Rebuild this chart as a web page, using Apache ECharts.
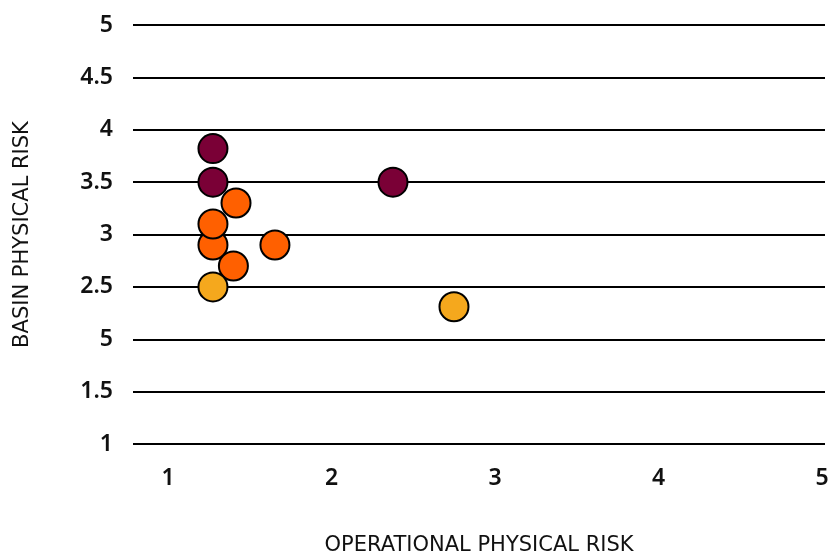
<!DOCTYPE html>
<html>
<head>
<meta charset="utf-8">
<script src="https://cdn.jsdelivr.net/npm/echarts@6/dist/echarts.min.js"></script>
<style>html,body{margin:0;padding:0;background:#fff;}#c{width:832px;height:556px;}</style>
</head>
<body>
<div id="c"></div>
<script>
// Tick labels as printed in the reference (note the "5" printed at value 2)
const yTickValues = [1, 1.5, 2, 2.5, 3, 3.5, 4, 4.5, 5];
const yTickLabels = ['1', '1.5', '5', '2.5', '3', '3.5', '4', '4.5', '5'];
const xTickValues = [1, 2, 3, 4, 5];
const xTickLabels = ['1', '2', '3', '4', '5'];

// Series data: [operational physical risk, basin physical risk]
const orangeX = [1.275, 1.275, 1.416, 1.654, 1.40];
const orangeY = [2.9, 3.1, 3.3, 2.9, 2.7];
const yellowX = [1.275, 2.749];
const yellowY = [2.5, 2.31];
const maroonX = [1.275, 1.275, 2.376];
const maroonY = [3.82, 3.5, 3.5];

const xName = 'OPERATIONAL PHYSICAL RISK';
const yName = 'BASIN PHYSICAL RISK';

function pairs(xs, ys) { return xs.map((x, i) => [x, ys[i]]); }

const labelFont = '"Noto Sans", sans-serif';
const nameFont = 'DejaVu Sans';
const chart = echarts.init(document.getElementById('c'), null, {renderer: 'canvas'});
const pointStyle = (color) => ({
  type: 'scatter',
  symbol: 'circle',
  symbolSize: 29,
  itemStyle: {color: color, borderColor: '#000', borderWidth: 2, opacity: 1},
  emphasis: {disabled: true}
});

chart.setOption({
  animation: false,
  grid: {left: 133, right: 7, top: 25, bottom: 112, containLabel: false, outerBoundsMode: 'none'},
  xAxis: {
    type: 'value',
    min: 0.786,
    max: 5.018,
    name: xName,
    nameLocation: 'middle',
    nameGap: 91,
    nameTextStyle: {fontFamily: nameFont, fontSize: 21, color: '#111'},
    axisLine: {show: false},
    axisTick: {show: false},
    splitLine: {show: false},
    axisLabel: {
      customValues: xTickValues,
      margin: 23,
      fontFamily: labelFont, fontSize: 23, fontWeight: 600, color: '#111',
      formatter: (v) => { const i = xTickValues.indexOf(v); return i >= 0 ? xTickLabels[i] : ''; }
    }
  },
  yAxis: {
    type: 'value',
    min: 1,
    max: 5,
    interval: 0.5,
    name: yName,
    nameLocation: 'middle',
    nameGap: 100,
    nameTextStyle: {fontFamily: nameFont, fontSize: 21, color: '#111'},
    axisLine: {show: false},
    axisTick: {show: false},
    splitLine: {show: true, lineStyle: {color: '#000', width: 2}},
    axisLabel: {
      margin: 20,
      fontFamily: labelFont, fontSize: 23, fontWeight: 600, color: '#111',
      formatter: (v) => { const i = yTickValues.findIndex(t => Math.abs(t - v) < 1e-9); return i >= 0 ? yTickLabels[i] : ''; }
    }
  },
  series: [
    Object.assign(pointStyle('#ff6000'), {data: pairs(orangeX, orangeY), z: 2}),
    Object.assign(pointStyle('#f5a81d'), {data: pairs(yellowX, yellowY), z: 3}),
    Object.assign(pointStyle('#7a0036'), {data: pairs(maroonX, maroonY), z: 4})
  ]
});
</script>
</body>
</html>
